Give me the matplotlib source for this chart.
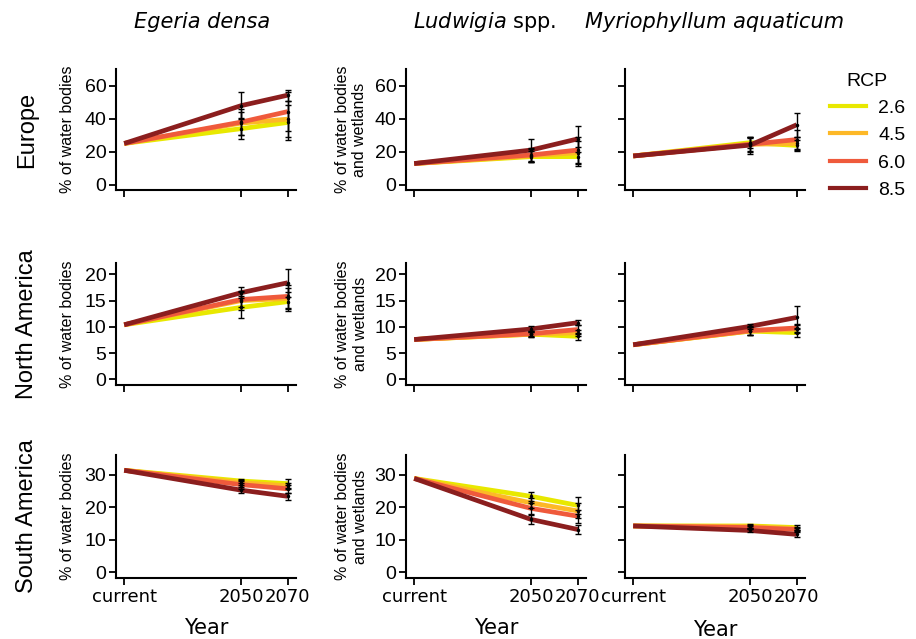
import matplotlib.pyplot as plt
import numpy as np

# scenario labels / colours
rcp = ['2.6', '4.5', '6.0', '8.5']
rcp_colors = ['#e8e800', '#fdb827', '#ef5a3c', '#8b1e1e']

years = [2000, 2050, 2070]
year_labels = ['current', '2050', '2070']

species = ['Egeria densa', 'Ludwigia spp.', 'Myriophyllum aquaticum']
regions = ['Europe', 'North America', 'South America']

# current value for each region x species
current = {
    'Europe': [25.0, 12.8, 17.4],
    'North America': [10.4, 7.6, 6.6],
    'South America': [31.4, 28.9, 14.3],
}

# values at 2050 / 2070, one list per rcp (2.6, 4.5, 6.0, 8.5)
v2050 = {
    'Europe': [[34.0, 37.4, 38.0, 48.0], [17.0, 17.5, 18.0, 21.0], [25.5, 24.5, 24.5, 24.0]],
    'North America': [[13.7, 15.0, 15.2, 16.5], [8.6, 8.6, 8.7, 9.6], [9.2, 9.2, 9.3, 10.1]],
    'South America': [[28.1, 27.6, 27.0, 25.3], [23.4, 21.4, 19.7, 16.3], [14.3, 14.1, 13.8, 12.9]],
}
v2070 = {
    'Europe': [[37.8, 39.8, 44.4, 54.4], [17.0, 19.4, 21.0, 27.8], [23.8, 25.0, 27.4, 36.4]],
    'North America': [[14.8, 15.4, 15.8, 18.4], [8.2, 8.9, 9.5, 10.8], [8.9, 9.6, 9.8, 11.8]],
    'South America': [[27.3, 26.6, 25.7, 23.4], [20.6, 18.9, 17.3, 13.2], [13.8, 13.5, 13.2, 11.7]],
}
# error bar half widths
e2050 = {
    'Europe': [[6.5, 7.0, 8.0, 8.4], [3.5, 4.0, 4.5, 6.8], [3.5, 4.0, 4.5, 5.2]],
    'North America': [[2.1, 1.8, 1.5, 1.1], [0.6, 0.5, 0.5, 0.5], [0.8, 0.8, 0.9, 0.5]],
    'South America': [[0.7, 0.8, 1.2, 1.0], [1.4, 1.5, 1.6, 1.3], [0.5, 0.4, 0.4, 0.4]],
}
e2070 = {
    'Europe': [[10.5, 11.0, 12.0, 3.4], [6.0, 7.0, 8.0, 8.0], [3.4, 4.0, 6.0, 7.4]],
    'North America': [[1.8, 2.0, 2.2, 2.7], [0.6, 0.6, 0.8, 0.5], [0.9, 0.8, 0.8, 2.2]],
    'South America': [[1.3, 1.0, 1.2, 1.0], [2.7, 2.3, 2.0, 1.4], [0.7, 0.6, 0.6, 0.7]],
}

row_ylim = [(-3.3, 70.3), (-1.05, 22.15), (-1.7, 36.1)]
row_yticks = [[0, 20, 40, 60], [0, 5, 10, 15, 20], [0, 10, 20, 30]]

SANS = 'Liberation Sans'

W, H = 916, 639
fig = plt.figure(figsize=(W / 100, H / 100), dpi=100)

col_left = [116, 406, 625]
col_w = 180
row_top = [69, 263, 455]
row_bot = [190, 385, 578]

for r, reg in enumerate(regions):
    for c in range(3):
        ax = fig.add_axes([col_left[c] / W, 1 - row_bot[r] / H,
                           col_w / W, (row_bot[r] - row_top[r]) / H])
        for k in range(4):
            ys = [current[reg][c], v2050[reg][c][k], v2070[reg][c][k]]
            ax.plot(years, ys, color=rcp_colors[k], lw=3.4, solid_capstyle='butt', zorder=2 + k)
        for k in range(4):
            ax.errorbar([2050, 2070], [v2050[reg][c][k], v2070[reg][c][k]],
                        yerr=[e2050[reg][c][k], e2070[reg][c][k]],
                        fmt='.', ms=3, color='black', ecolor='black',
                        elinewidth=1, capsize=2.5, capthick=1, zorder=10)
        ax.set_xlim(1996.5, 2073.5)
        ax.set_ylim(*row_ylim[r])
        ax.set_yticks(row_yticks[r])
        ax.set_xticks(years)
        for s in ['top', 'right']:
            ax.spines[s].set_visible(False)
        for s in ['left', 'bottom']:
            ax.spines[s].set_linewidth(1.5)
        ax.tick_params(width=1.3, length=5, colors='black', pad=2)
        ax.tick_params(axis='x', labelsize=13)
        ax.tick_params(axis='y', labelsize=14)
        for lab in ax.get_yticklabels():
            lab.set_family(SANS)
        if r == 2:
            ax.set_xticklabels(year_labels)
            ax.set_xlabel('Year', fontsize=15, labelpad=9 if c < 2 else 10)
        else:
            ax.set_xticklabels([])
        if c == 2:
            ax.set_yticklabels([])
        if c == 0:
            ax.set_ylabel('% of water bodies', fontsize=11.5, family=SANS, labelpad=7)
        elif c == 1:
            ax.set_ylabel('% of water bodies\nand wetlands', fontsize=11.5, family=SANS,
                          labelpad=5, linespacing=1.2)

    fig.text(27 / W, 1 - (row_top[r] + row_bot[r]) / 2 / H, reg, rotation=90,
             fontsize=17, family=SANS, ha='center', va='center')

fig.text(202 / W, 1 - 22 / H, 'Egeria densa', fontsize=15, style='italic',
         ha='center', va='center')
fig.text(485 / W, 1 - 22 / H, r'$\it{Ludwigia}$ spp.', fontsize=15,
         ha='center', va='center')
fig.text(715 / W, 1 - 22 / H, 'Myriophyllum aquaticum', fontsize=15, style='italic',
         ha='center', va='center')

handles = [plt.Line2D([], [], color=col, lw=3) for col in rcp_colors]
leg = fig.legend(handles, rcp, title='RCP', loc='upper left',
                 bbox_to_anchor=(812 / W, 1 - 55 / H), frameon=False,
                 prop={'family': SANS, 'size': 14},
                 title_fontproperties={'family': SANS, 'size': 14},
                 handlelength=1.9, labelspacing=0.5, handletextpad=0.6)

fig.savefig('out.png', dpi=100)
